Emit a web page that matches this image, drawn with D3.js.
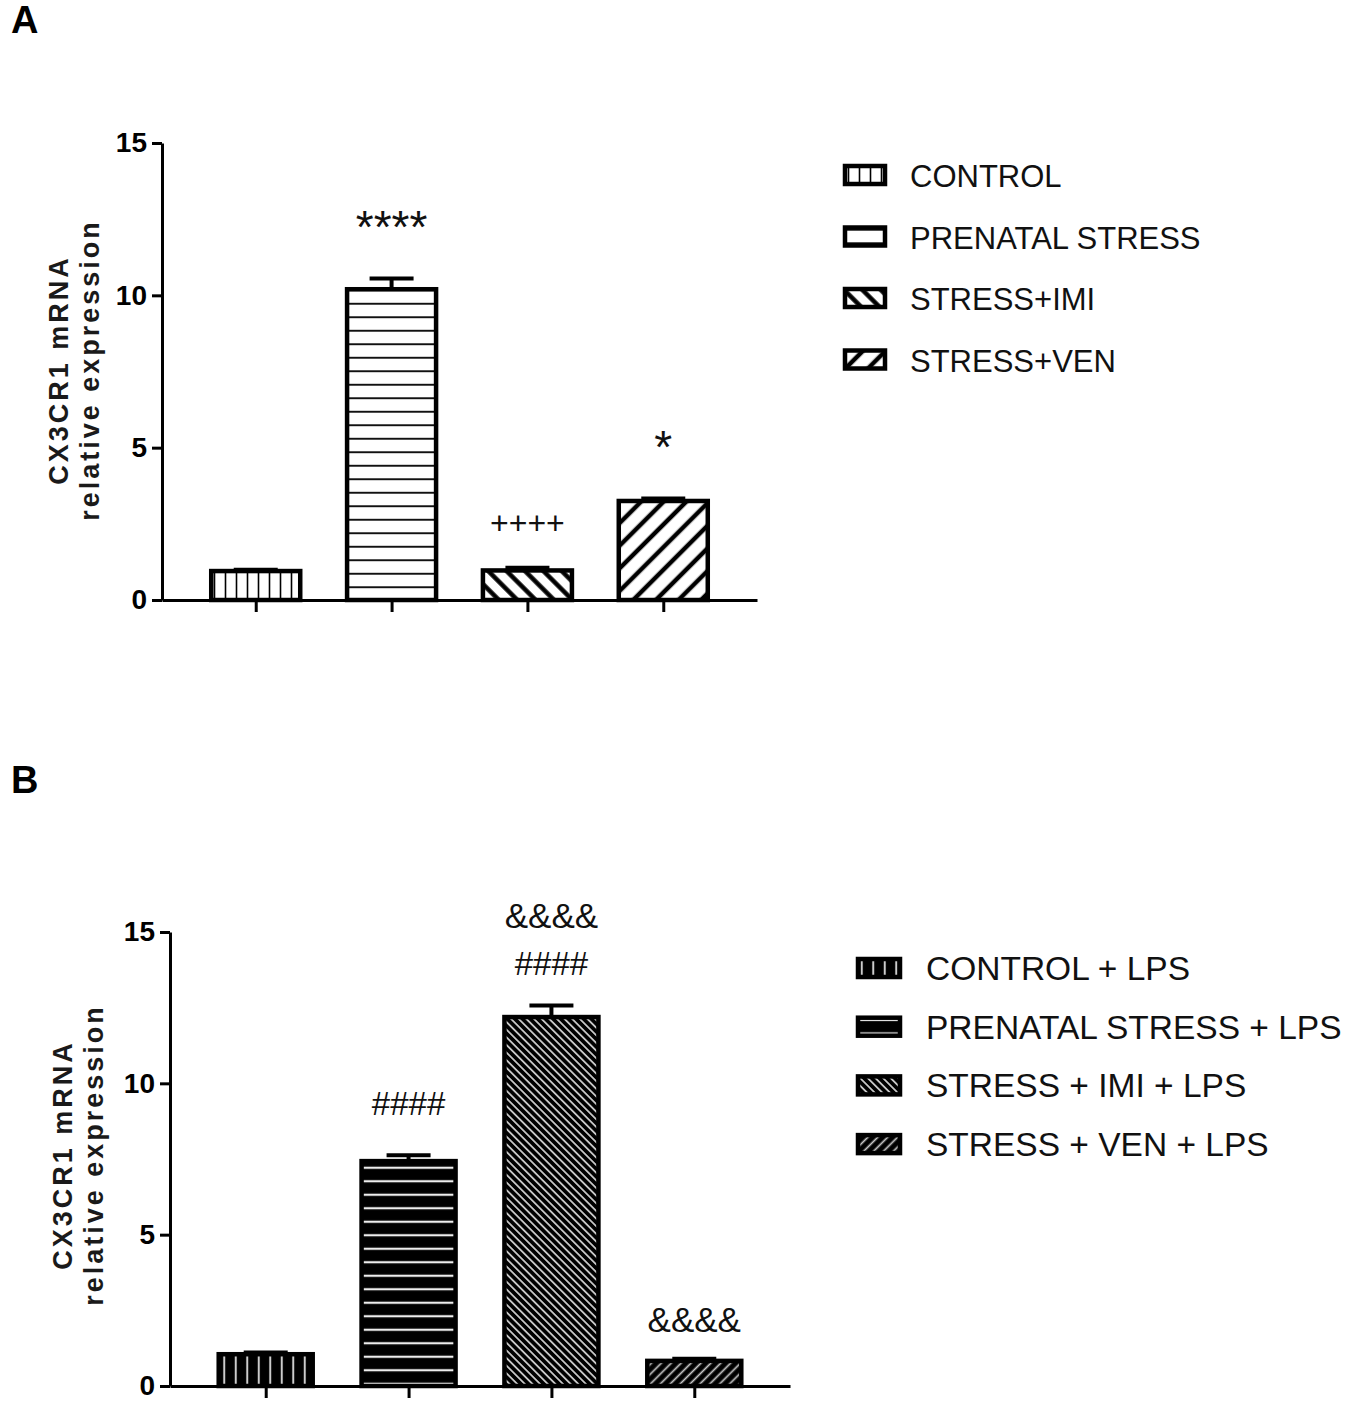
<!DOCTYPE html>
<html>
<head>
<meta charset="utf-8">
<script src="https://cdn.jsdelivr.net/npm/d3@7"></script>
<style>
  body { margin: 0; background: #fff; }
  svg text { font-family: "Liberation Sans", Arial, sans-serif; }
</style>
</head>
<body>
<div id="chart"></div>
<script>
// values
const yTicks = [0, 5, 10, 15];

const groupsA = ["CONTROL", "PRENATAL STRESS", "STRESS+IMI", "STRESS+VEN"];
const meanA = [0.95, 10.2, 0.97, 3.25];
const semA = [0.04, 0.35, 0.09, 0.08];
const marksA = [[], ["****"], ["++++"], ["*"]];

const groupsB = ["CONTROL + LPS", "PRENATAL STRESS + LPS", "STRESS + IMI + LPS", "STRESS + VEN + LPS"];
const meanB = [1.05, 7.43, 12.19, 0.83];
const semB = [0.06, 0.19, 0.38, 0.07];
const marksB = [[], ["####"], ["####", "&&&&"], ["&&&&"]];

const patsA = ["pA0", "pA1", "pA2", "pA3"];
const patsB = ["pB0", "pB1", "pB2", "pB3"];

// font size per symbol
const markFont = {"*": 46, "+": 32, "#": 33, "&": 35};

const svg = d3.select("#chart").append("svg")
    .attr("width", 1358)
    .attr("height", 1414);

// hatch patterns
const defs = svg.append("defs");
function hatch(id, size, angle, bg, fg, sw) {
  const p = defs.append("pattern")
      .attr("id", id)
      .attr("patternUnits", "userSpaceOnUse")
      .attr("width", size).attr("height", size)
      .attr("patternTransform", "rotate(" + angle + ")");
  p.append("rect").attr("width", size).attr("height", size).attr("fill", bg);
  p.append("line")
      .attr("x1", 0).attr("x2", size)
      .attr("y1", size / 2).attr("y2", size / 2)
      .attr("stroke", fg).attr("stroke-width", sw);
}
hatch("pA0", 11, 90, "#fff", "#000", 1.6);
hatch("pA1", 13.5, 0, "#fff", "#000", 1.8);
hatch("pA2", 13, 45, "#fff", "#000", 4.5);
hatch("pA3", 16, -45, "#fff", "#000", 4.5);
hatch("pB0", 11.5, 90, "#000", "#ccc", 2);
hatch("pB1", 13.5, 0, "#000", "#eee", 2.2);
hatch("pB2", 5.4, 45, "#000", "#eee", 1.5);
hatch("pB3", 7, -45, "#000", "#ccc", 1.7);

function panel(cfg) {
  const g = svg.append("g");

  const x = d3.scalePoint()
      .domain(cfg.groups)
      .range([cfg.left, cfg.right])
      .padding(cfg.pad);
  const y = d3.scaleLinear().domain([0, 15]).range([cfg.bottom, cfg.top]);

  // bars
  g.selectAll(".bar")
    .data(cfg.groups)
    .join("rect")
      .attr("class", "bar")
      .attr("x", d => x(d) - cfg.barW / 2)
      .attr("width", cfg.barW)
      .attr("y", (d, i) => y(cfg.mean[i]))
      .attr("height", (d, i) => y(0) - y(cfg.mean[i]))
      .attr("fill", (d, i) => "url(#" + cfg.pats[i] + ")")
      .attr("stroke", "#000")
      .attr("stroke-width", 4.5);

  // error bars (upper only)
  const eb = g.selectAll(".err")
    .data(cfg.groups)
    .join("g")
      .attr("class", "err")
      .attr("stroke", "#000")
      .attr("stroke-width", 4);
  eb.append("line")
      .attr("x1", d => x(d)).attr("x2", d => x(d))
      .attr("y1", (d, i) => y(cfg.mean[i]))
      .attr("y2", (d, i) => y(cfg.mean[i] + cfg.sem[i]));
  eb.append("line")
      .attr("x1", d => x(d) - 22).attr("x2", d => x(d) + 22)
      .attr("y1", (d, i) => y(cfg.mean[i] + cfg.sem[i]))
      .attr("y2", (d, i) => y(cfg.mean[i] + cfg.sem[i]));

  // significance marks
  cfg.groups.forEach((d, i) => {
    cfg.marks[i].forEach((m, k) => {
      g.append("text")
          .attr("x", x(d))
          .attr("y", y(cfg.mean[i] + cfg.sem[i]) - cfg.markGap[i] - k * 47)
          .attr("text-anchor", "middle")
          .attr("font-size", markFont[m[0]])
          .attr("fill", "#111")
          .text(m);
    });
  });

  // axes
  const ya = g.append("g")
      .attr("transform", "translate(" + cfg.left + ",0)")
      .call(d3.axisLeft(y).tickValues(yTicks).tickSize(10).tickSizeOuter(0).tickPadding(5));
  const xa = g.append("g")
      .attr("transform", "translate(0," + cfg.bottom + ")")
      .call(d3.axisBottom(x).tickSize(12).tickSizeOuter(0).tickFormat(""));
  [ya, xa].forEach(a => {
    a.selectAll("path, line").attr("stroke", "#000").attr("stroke-width", 3);
  });
  ya.selectAll("text")
      .attr("font-size", 28)
      .attr("font-weight", "bold")
      .attr("font-family", "Liberation Sans, Arial, sans-serif")
      .attr("fill", "#000");

  // y label
  const lab = g.append("text")
      .attr("transform", "translate(" + cfg.labX + "," + cfg.labY + ") rotate(-90)")
      .attr("text-anchor", "middle")
      .attr("font-size", 27)
      .attr("font-weight", "bold")
      .attr("letter-spacing", 3)
      .attr("fill", "#1a1a1a");
  lab.append("tspan").attr("x", 0).attr("dy", 0).text("CX3CR1 mRNA");
  lab.append("tspan").attr("x", 0).attr("dy", 31).text("relative expression");

  // panel letter
  g.append("text")
      .attr("x", 11).attr("y", cfg.letterY)
      .attr("font-size", 38)
      .attr("font-weight", "bold")
      .text(cfg.letter);

  // legend
  const leg = g.selectAll(".leg")
    .data(cfg.groups)
    .join("g")
      .attr("class", "leg")
      .attr("transform", (d, i) => "translate(" + cfg.legX + "," + (cfg.legY + i * cfg.legStep) + ")");
  leg.append("rect")
      .attr("x", 2).attr("y", -9)
      .attr("width", cfg.swW).attr("height", 18)
      .attr("fill", (d, i) => "url(#" + cfg.pats[i] + ")")
      .attr("stroke", "#000")
      .attr("stroke-width", 4.5);
  leg.append("text")
      .attr("x", cfg.swW + cfg.textGap)
      .attr("y", 12)
      .attr("font-size", cfg.legFont)
      .attr("fill", "#111")
      .text(d => d);
}

panel({
  letter: "A", letterY: 33,
  groups: groupsA, mean: meanA, sem: semA, marks: marksA, pats: patsA,
  left: 162, right: 757, pad: 0.69, barW: 89,
  top: 143, bottom: 600, markGap: [0, 36, 34, 36],
  labX: 68, labY: 370,
  legX: 843, legY: 175, legStep: 61.5, swW: 40, textGap: 27, legFont: 31
});

panel({
  letter: "B", letterY: 793,
  groups: groupsB, mean: meanB, sem: semB, marks: marksB, pats: patsB,
  left: 170, right: 790, pad: 0.67, barW: 94,
  top: 932, bottom: 1386, markGap: [0, 40, 31, 27],
  labX: 72, labY: 1155,
  legX: 856, legY: 968, legStep: 58.7, swW: 42, textGap: 28, legFont: 33.5
});
</script>
</body>
</html>
